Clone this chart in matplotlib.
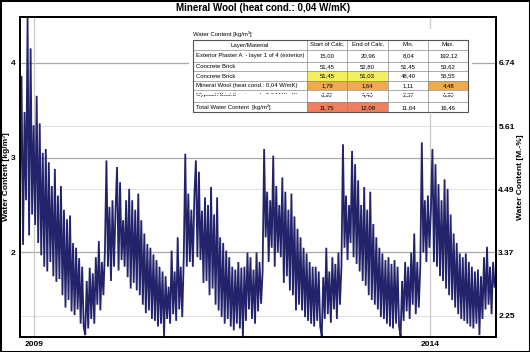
import matplotlib
matplotlib.use('Agg')
import matplotlib.pyplot as plt
import numpy as np
from matplotlib.patches import Rectangle
from matplotlib.lines import Line2D
from matplotlib.transforms import Bbox, TransformedBbox

plt.rcParams['font.family'] = ['Liberation Sans', 'DejaVu Sans']

# ---------------- data (weekly values, kg/m3) ----------------
t_start = 2008.82            # decimal year of first sample
step_days = 7

seg_first = [2.60, 3.86, 2.08, 3.48, 2.55, 4.47, 2.18, 4.15, 2.40, 3.34, 2.29, 3.65, 2.10, 3.36,
             1.97, 3.05, 1.85, 3.09, 1.80, 2.95, 1.90, 2.70, 1.75, 2.88, 1.69, 2.60, 1.72, 2.70,
             1.55, 2.45, 1.42, 2.35, 1.50, 2.39, 1.38, 2.10, 1.34, 2.05, 1.40, 1.94, 1.25, 1.85, 1.22]
cycle_2010 = [1.13, 1.70, 1.20, 1.84, 1.30, 1.78, 1.25, 1.95, 1.45, 2.12, 1.39, 1.90, 1.55, 2.02,
              2.97, 1.85, 2.48, 1.70, 2.55, 1.85, 2.44, 2.90, 1.81, 2.74, 1.92, 2.34, 1.85, 2.55,
              1.74, 2.67, 1.62, 2.55, 1.68, 2.45, 1.60, 2.62, 1.55, 2.34, 1.45, 2.20, 1.36, 2.09,
              1.39, 2.05, 1.30, 1.98, 1.28, 1.92, 1.22, 1.85, 1.25, 1.80]
cycle_2011 = [1.11, 1.75, 1.30, 1.64, 1.25, 2.02, 1.35, 1.80, 1.28, 2.16, 1.40, 1.85, 1.32, 1.95,
              3.04, 1.85, 2.62, 1.90, 2.45, 1.85, 2.60, 2.97, 1.95, 2.85, 1.92, 2.44, 1.68, 2.58,
              1.70, 2.50, 1.55, 2.69, 1.62, 2.40, 1.45, 2.58, 1.39, 2.16, 1.32, 2.10, 1.25, 2.02,
              1.30, 1.95, 1.22, 1.85, 1.18, 1.82, 1.25, 1.90, 1.20, 1.84]
cycle_2012 = [1.11, 1.85, 1.28, 2.00, 1.40, 1.95, 1.30, 1.82, 1.25, 2.00, 1.38, 1.90, 1.46, 1.80,
              3.09, 2.16, 2.64, 1.90, 2.55, 2.05, 3.02, 1.85, 2.70, 2.00, 2.50, 1.95, 2.79, 1.68,
              2.64, 1.75, 2.45, 1.60, 2.62, 1.55, 2.38, 1.39, 2.25, 1.45, 2.16, 1.39, 2.05, 1.32,
              1.99, 1.28, 1.90, 1.25, 1.85, 1.22, 1.85, 1.28, 1.80, 1.22]
cycle_2013 = [1.12, 1.74, 1.30, 2.05, 1.35, 1.80, 1.26, 1.95, 1.40, 1.88, 1.30, 2.00, 1.45, 1.85,
              3.14, 2.05, 2.60, 1.92, 2.50, 2.10, 3.07, 1.95, 2.93, 1.88, 2.76, 1.80, 2.50, 1.70,
              2.69, 1.65, 2.45, 1.55, 2.64, 1.50, 2.30, 1.45, 2.16, 1.40, 2.05, 1.32, 1.99, 1.30,
              1.92, 1.25, 1.95, 1.22, 1.88, 1.20, 1.92, 1.25, 1.85, 1.22]
cycle_2014 = [1.12, 1.70, 1.28, 1.90, 1.38, 1.85, 1.30, 2.00, 1.45, 2.20, 1.35, 1.90, 1.42, 1.85,
              3.16, 2.00, 2.55, 1.90, 2.60, 2.05, 2.45, 3.09, 1.90, 2.93, 1.85, 2.72, 1.75, 2.55,
              1.70, 2.77, 1.62, 2.67, 1.55, 2.40, 1.50, 2.20, 1.42, 2.10, 1.35, 1.99, 1.30, 1.95,
              1.28, 1.99, 1.25, 1.90, 1.22, 1.85, 1.20, 1.80, 1.25, 1.82]
seg_last = [1.13, 1.75, 1.30, 1.95, 1.40, 2.06, 1.45, 1.85, 1.35, 1.90, 1.64]

water = seg_first + cycle_2010 + cycle_2011 + cycle_2012 + cycle_2013 + cycle_2014 + seg_last

left_ticks = [2, 3, 4]
right_labels = [2.25, 3.37, 4.49, 5.61, 6.74]
mass_factor = 6.74 / 4.0          # kg/m3 -> M.-%
x_ticks = [2009, 2014]
y_min, y_max = 1.11, 4.48

table_title = "Water Content [kg/m³]"
columns = ["Layer/Material", "Start of Calc.", "End of Calc.", "Min.", "Max."]
layers = ["Exterior Plaster A  - layer 1 of 4 (exterior)", "Concrete Brick", "Concrete Brick",
          "Mineral Wool (heat cond.: 0,04 W/mK)", "Gypsum Board", "Total Water Content  [kg/m²]"]
start_calc = ["15,00", "51,45", "51,45", "1,79", "6,30", "11,75"]
end_calc = ["20,96", "52,80", "51,03", "1,64", "4,40", "12,09"]
min_vals = ["8,04", "51,45", "48,40", "1,11", "2,57", "11,64"]
max_vals = ["192,12", "53,62", "55,55", "4,48", "6,30", "16,46"]
ghost_row = ["Mineral Wool (heat cond.: 0,04 W/mK)", "1,79", "1,64", "0,68", "1,79"]

# ---------------- figure ----------------
W, H = 530, 352
fig = plt.figure(figsize=(W / 100, H / 100), dpi=100)
ax = fig.add_axes([20 / W, 15 / H, 475.5 / W, 320 / H])

x = t_start + np.arange(len(water)) * step_days / 365.25

right_pos = [v / mass_factor for v in right_labels]
for p in right_pos:
    ax.axhline(p, color='#e2e2e2', lw=0.8, zorder=1)
for p in left_ticks:
    ax.axhline(p, color='#a9a9a9', lw=0.9, zorder=1)
for xv in x_ticks:
    ax.axvline(xv, color='#c9c9c9', lw=0.9, zorder=1)

ax.plot(x, water, color='#23236b', lw=1.3, zorder=3, solid_joinstyle='miter')

ax.set_xlim(2008.82, 2014.83)
ax.set_ylim(y_min, y_max)
ax.set_yticks(left_ticks)
ax.set_yticklabels([str(v) for v in left_ticks])
ax.set_xticks(x_ticks)
ax.set_xticklabels([str(v) for v in x_ticks])
ax.tick_params(length=0, labelsize=6, pad=3)
for lbl in ax.get_yticklabels() + ax.get_xticklabels():
    lbl.set_fontweight('bold')

ax2 = ax.twinx()
ax2.set_ylim(y_min, y_max)
ax2.set_yticks(right_pos)
ax2.set_yticklabels(["%.2f" % v for v in right_labels])
ax2.tick_params(length=0, labelsize=6, pad=2)
for lbl in ax2.get_yticklabels():
    lbl.set_fontweight('bold')

for a in (ax, ax2):
    for s in a.spines.values():
        s.set_linewidth(1.3)
        s.set_color('black')

def fx(px):
    return px / W

def fy(py):
    return 1 - py / H

fig.text(fx(263), fy(8), "Mineral Wool (heat cond.: 0,04 W/mK)", ha='center', va='center',
         fontsize=7, fontweight='bold')
fig.text(fx(7), fy(177), "Water Content [kg/m³]", rotation=90, ha='center', va='center',
         fontsize=6, fontweight='bold')
fig.text(fx(521), fy(177), "Water Content [M.-%]", rotation=90, ha='center', va='center',
         fontsize=6, fontweight='bold')

# figure border
fig.add_artist(Rectangle((0, 0), 1, 1, transform=fig.transFigure, fill=False,
                         edgecolor='black', lw=2.2, zorder=20))

# ---------------- table ----------------
def rect_px(x0, y0, x1, y1, **kw):
    r = Rectangle((fx(x0), fy(y1)), fx(x1) - fx(x0), fy(y0) - fy(y1),
                  transform=fig.transFigure, **kw)
    fig.add_artist(r)
    return r

rect_px(189, 29, 472, 114, facecolor='white', edgecolor='none', zorder=5)
fig.text(fx(193), fy(34.5), table_title, ha='left', va='center', fontsize=4.3, zorder=8)

col_edges = [193.3, 306.7, 347.3, 388.3, 428.3, 468.3]
row_edges = [40, 50, 61.7, 71.3, 80.7, 90.3, 102.3, 112.3]
yellow, orange, salmon = '#f3ee5e', '#f1aa4b', '#ee7f5f'
fills = {(3, 1): yellow, (3, 2): yellow, (4, 1): orange, (4, 2): orange, (4, 4): orange,
         (6, 1): salmon, (6, 2): salmon}
for (r, c), col in fills.items():
    rect_px(col_edges[c], row_edges[r], col_edges[c + 1], row_edges[r + 1],
            facecolor=col, edgecolor='none', zorder=6)

for yv in row_edges[1:-1]:
    fig.add_artist(Line2D([fx(col_edges[0]), fx(col_edges[-1])], [fy(yv), fy(yv)],
                          transform=fig.transFigure, color='#8a8a8a', lw=0.5, zorder=7))
for xv in col_edges[1:-1]:
    fig.add_artist(Line2D([fx(xv), fx(xv)], [fy(row_edges[0]), fy(row_edges[-1])],
                          transform=fig.transFigure, color='#8a8a8a', lw=0.5, zorder=7))
rect_px(col_edges[0], row_edges[0], col_edges[-1], row_edges[-1], fill=False,
        edgecolor='#555555', lw=0.8, zorder=7)

tfs = 4.3
def cell_text(r, c, s, yc=None, clip=None):
    x0, x1 = col_edges[c], col_edges[c + 1]
    y = yc if yc is not None else (row_edges[r] + row_edges[r + 1]) / 2
    if c == 0 and r > 0:
        t = fig.text(fx(x0 + 3), fy(y), s, ha='left', va='center', fontsize=tfs, zorder=8)
    else:
        t = fig.text(fx((x0 + x1) / 2), fy(y), s, ha='center', va='center', fontsize=tfs, zorder=8)
    if clip is not None:
        bb = TransformedBbox(Bbox.from_extents(fx(col_edges[0]), fy(clip[1]),
                                               fx(col_edges[-1]), fy(clip[0])), fig.transFigure)
        t.set_clip_box(bb)
        t.set_clip_on(True)
    return t

for c, s in enumerate(columns):
    cell_text(0, c, s)
row_data = list(zip(layers, start_calc, end_calc, min_vals, max_vals))
table_rows = [1, 2, 3, 4, 5, 6]
for r, vals in zip(table_rows, row_data):
    if r == 5:
        # overlapped (glitched) row: upper half of one row above lower half of another
        for c, s in enumerate(ghost_row):
            cell_text(r, c, s, yc=95.0, clip=(90.5, 94.2))
        for c, s in enumerate(vals):
            cell_text(r, c, s, yc=94.6, clip=(94.6, 102))
    else:
        for c, s in enumerate(vals):
            cell_text(r, c, s)

fig.savefig('out.png', dpi=100)
